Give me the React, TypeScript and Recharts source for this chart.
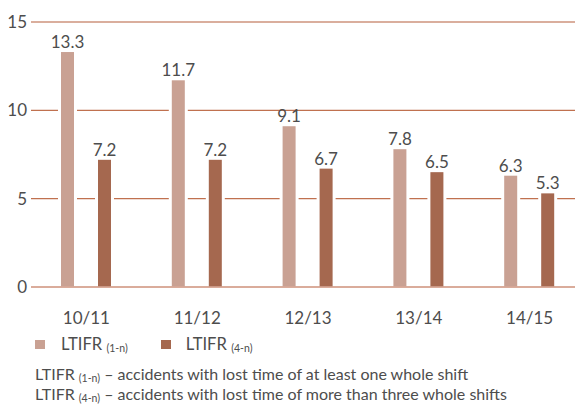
import { BarChart, Bar, XAxis, YAxis, CartesianGrid, ReferenceLine, LabelList } from 'recharts';

const seasons = ['10/11', '11/12', '12/13', '13/14', '14/15'];
const ltifr1n = [13.3, 11.7, 9.1, 7.8, 6.3];
const ltifr4n = [7.2, 7.2, 6.7, 6.5, 5.3];
const yTicks = [0, 5, 10, 15];

const data = seasons.map((season, i) => ({ season, a: ltifr1n[i], b: ltifr4n[i] }));

const LIGHT = '#c9a193';
const DARK = '#a5684f';
const TEXT = '#4d4d4d';
const FONT = 'Lato, sans-serif';

// bar with a white halo on the sides so grid lines break around it
const GappedBar = (props: any) => {
  const { x, y, width, height, fill } = props;
  if (!height) return null;
  return (
    <g>
      <rect x={x - 3} y={y} width={width + 6} height={height - 1} fill="#fff" />
      <rect x={x} y={y} width={width} height={height} fill={fill} />
    </g>
  );
};

const Sub = ({ children }: { children: string }) => (
  <span style={{ fontSize: 10.5, position: 'relative', top: 2 }}>{children}</span>
);

export default function App() {
  return (
    <div
      style={{
        position: 'absolute',
        left: 0,
        top: 0,
        width: 575,
        height: 404,
        overflow: 'hidden',
        background: '#fff',
        fontFamily: FONT,
        color: TEXT,
      }}
    >
      <div style={{ position: 'absolute', left: 0, top: 0 }}>
        <BarChart
          width={590}
          height={330}
          data={data}
          margin={{ top: 22, right: 5, left: 0, bottom: 0 }}
          barSize={13}
          barGap={24}
        >
          <CartesianGrid vertical={false} stroke="#c0714f" strokeWidth={1.2} />
          <XAxis
            dataKey="season"
            axisLine={{ stroke: '#d8a897', strokeWidth: 1.5 }}
            tickLine={false}
            tickSize={0}
            tickMargin={25}
            height={43}
            tick={{ fill: TEXT, fontSize: 17, fontFamily: FONT }}
          />
          <YAxis
            domain={[0, 15]}
            ticks={yTicks}
            axisLine={false}
            tickLine={false}
            tickSize={0}
            tickMargin={4}
            width={31}
            tick={{ fill: TEXT, fontSize: 17, fontFamily: FONT }}
          />
          <ReferenceLine y={15} stroke="#d9ab9a" strokeWidth={1.5} />
          <Bar dataKey="a" fill={LIGHT} shape={<GappedBar />} isAnimationActive={false}>
            <LabelList dataKey="a" position="top" offset={4} fill={TEXT} fontSize={17} fontFamily={FONT} />
          </Bar>
          <Bar dataKey="b" fill={DARK} shape={<GappedBar />} isAnimationActive={false}>
            <LabelList dataKey="b" position="top" offset={4} fill={TEXT} fontSize={17} fontFamily={FONT} />
          </Bar>
        </BarChart>
      </div>

      <div style={{ position: 'absolute', left: 35, top: 334, fontSize: 16.6, display: 'flex', alignItems: 'center' }}>
        <span style={{ width: 10, height: 9, background: LIGHT, display: 'inline-block', marginRight: 16 }} />
        <span>LTIFR <Sub>(1-n)</Sub></span>
        <span style={{ width: 10, height: 9, background: DARK, display: 'inline-block', marginLeft: 33, marginRight: 15 }} />
        <span>LTIFR <Sub>(4-n)</Sub></span>
      </div>

      <div style={{ position: 'absolute', left: 35, top: 365, fontSize: 16, lineHeight: '18px', whiteSpace: 'nowrap' }}>
        <div>LTIFR <Sub>(1-n)</Sub> – accidents with lost time of at least one whole shift</div>
        <div>LTIFR <Sub>(4-n)</Sub> – accidents with lost time of more than three whole shifts</div>
      </div>
    </div>
  );
}
